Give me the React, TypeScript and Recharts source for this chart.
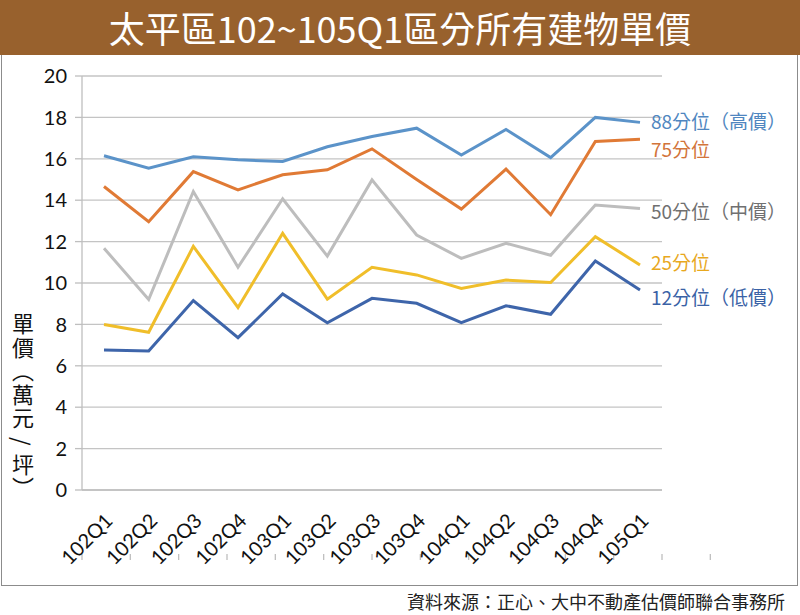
import { LineChart, Line, XAxis, YAxis, CartesianGrid } from 'recharts'

const quarters = [
  '102Q1', '102Q2', '102Q3', '102Q4',
  '103Q1', '103Q2', '103Q3', '103Q4',
  '104Q1', '104Q2', '104Q3', '104Q4',
  '105Q1',
]

const p88 = [16.15, 15.55, 16.1, 15.95, 15.87, 16.58, 17.08, 17.48, 16.18, 17.42, 16.06, 18.0, 17.76]
const p75 = [14.66, 12.96, 15.38, 14.5, 15.23, 15.47, 16.48, 15.0, 13.57, 15.5, 13.3, 16.84, 16.94]
const p50 = [11.68, 9.2, 14.42, 10.76, 14.07, 11.3, 14.98, 12.32, 11.19, 11.92, 11.34, 13.77, 13.6]
const p25 = [8.0, 7.62, 11.77, 8.82, 12.4, 9.22, 10.76, 10.39, 9.74, 10.14, 10.02, 12.24, 10.87]
const p12 = [6.76, 6.71, 9.15, 7.36, 9.47, 8.08, 9.26, 9.02, 8.08, 8.9, 8.49, 11.06, 9.66]

const yTicks = [0, 2, 4, 6, 8, 10, 12, 14, 16, 18, 20]
const boundaryTicks = [0, 1, 2, 3, 4, 5, 6, 7, 8, 9, 10, 11, 12, 13]

const data = quarters.map((q, i) => ({
  q,
  p88: p88[i],
  p75: p75[i],
  p50: p50[i],
  p25: p25[i],
  p12: p12[i],
}))

const series = [
  { key: 'p88', name: '88分位（高價）', stroke: '#5B93C9', text: '#4F86C0', dy: 0 },
  { key: 'p75', name: '75分位', stroke: '#E07A35', text: '#D2743A', dy: 11 },
  { key: 'p50', name: '50分位（中價）', stroke: '#BDBDBD', text: '#707070', dy: 4 },
  { key: 'p25', name: '25分位', stroke: '#F0BE2A', text: '#E8A81E', dy: -2 },
  { key: 'p12', name: '12分位（低價）', stroke: '#3E65AA', text: '#3A62A6', dy: 8 },
]

const numFont = 'Lato, "Noto Sans CJK TC", sans-serif'
const cjkFont = '"Noto Sans CJK TC", "Noto Sans", sans-serif'

function EndLabel(props: any) {
  const { x, y, index, text, color, dy } = props
  if (index !== quarters.length - 1) return <g />
  return (
    <text x={x + 11} y={y + dy} dy="0.35em" fill={color} fontSize={19} fontFamily={cjkFont}>
      {text}
    </text>
  )
}

function QuarterTick(props: any) {
  const { x, y, payload } = props
  return (
    <g transform={`translate(${x + 5},${y + 19})`}>
      <text transform="rotate(-45)" textAnchor="end" dy="0.35em" fill="#111" fontSize={20} fontFamily={numFont}>
        {payload.value}
      </text>
    </g>
  )
}

export default function App() {
  return (
    <div style={{ position: 'fixed', left: 0, top: 0, width: 800, height: 615, background: '#fff', overflow: 'hidden' }}>
      <div
        style={{
          position: 'absolute', left: 0, top: 0, width: 800, height: 55,
          background: '#98612D', color: '#fff', fontFamily: cjkFont, fontSize: 36,
          lineHeight: '55px', textAlign: 'center',
        }}
      >
        太平區102~105Q1區分所有建物單價
      </div>
      <div
        style={{
          position: 'absolute', left: 1, top: 55, width: 795, height: 530,
          border: '1px solid #8C8C8C', borderTop: 'none', boxSizing: 'content-box',
        }}
      />
      <div
        style={{
          position: 'absolute', left: 11, top: 313, writingMode: 'vertical-rl',
          fontFamily: cjkFont, fontSize: 22, lineHeight: '24px', letterSpacing: 1.5,
          color: '#111', whiteSpace: 'pre',
        }}
      >
        {'單價︵萬元 / 坪︶'}
      </div>
      <div style={{ position: 'absolute', left: 0, top: 0 }}>
        <LineChart width={800} height={615} data={data} margin={{ top: 76, right: 138, bottom: 60, left: 32 }}>
          <CartesianGrid vertical={false} stroke="#C4C4C4" strokeWidth={1.3} />
          <XAxis
            xAxisId="edge"
            type="number"
            domain={[0, 13]}
            ticks={boundaryTicks}
            height={1}
            tickFormatter={() => ''}
            axisLine={false}
            tickSize={6}
            tickLine={{ stroke: '#BFBFBF', strokeWidth: 1.3 }}
            allowDataOverflow
          />
          <XAxis
            dataKey="q"
            height={64}
            interval={0}
            padding={{ left: 22, right: 22 }}
            axisLine={{ stroke: '#BFBFBF', strokeWidth: 1.3 }}
            tickLine={false}
            tick={<QuarterTick />}
          />
          <YAxis
            width={50}
            domain={[0, 20]}
            ticks={yTicks}
            interval={0}
            tickSize={7}
            tickMargin={8}
            axisLine={{ stroke: '#BFBFBF', strokeWidth: 1.3 }}
            tickLine={{ stroke: '#BFBFBF', strokeWidth: 1.3 }}
            tick={{ fill: '#111', fontSize: 20, fontFamily: numFont }}
          />
          {series.map((s) => (
            <Line
              key={s.key}
              dataKey={s.key}
              name={s.name}
              stroke={s.stroke}
              strokeWidth={3}
              dot={false}
              activeDot={false}
              isAnimationActive={false}
              label={(p: any) => <EndLabel {...p} text={s.name} color={s.text} dy={s.dy} />}
            />
          ))}
        </LineChart>
      </div>
      <div
        style={{
          position: 'absolute', right: 15, top: 590, fontFamily: cjkFont, fontSize: 18,
          color: '#222', lineHeight: '22px',
        }}
      >
        資料來源：正心、大中不動產估價師聯合事務所
      </div>
    </div>
  )
}
